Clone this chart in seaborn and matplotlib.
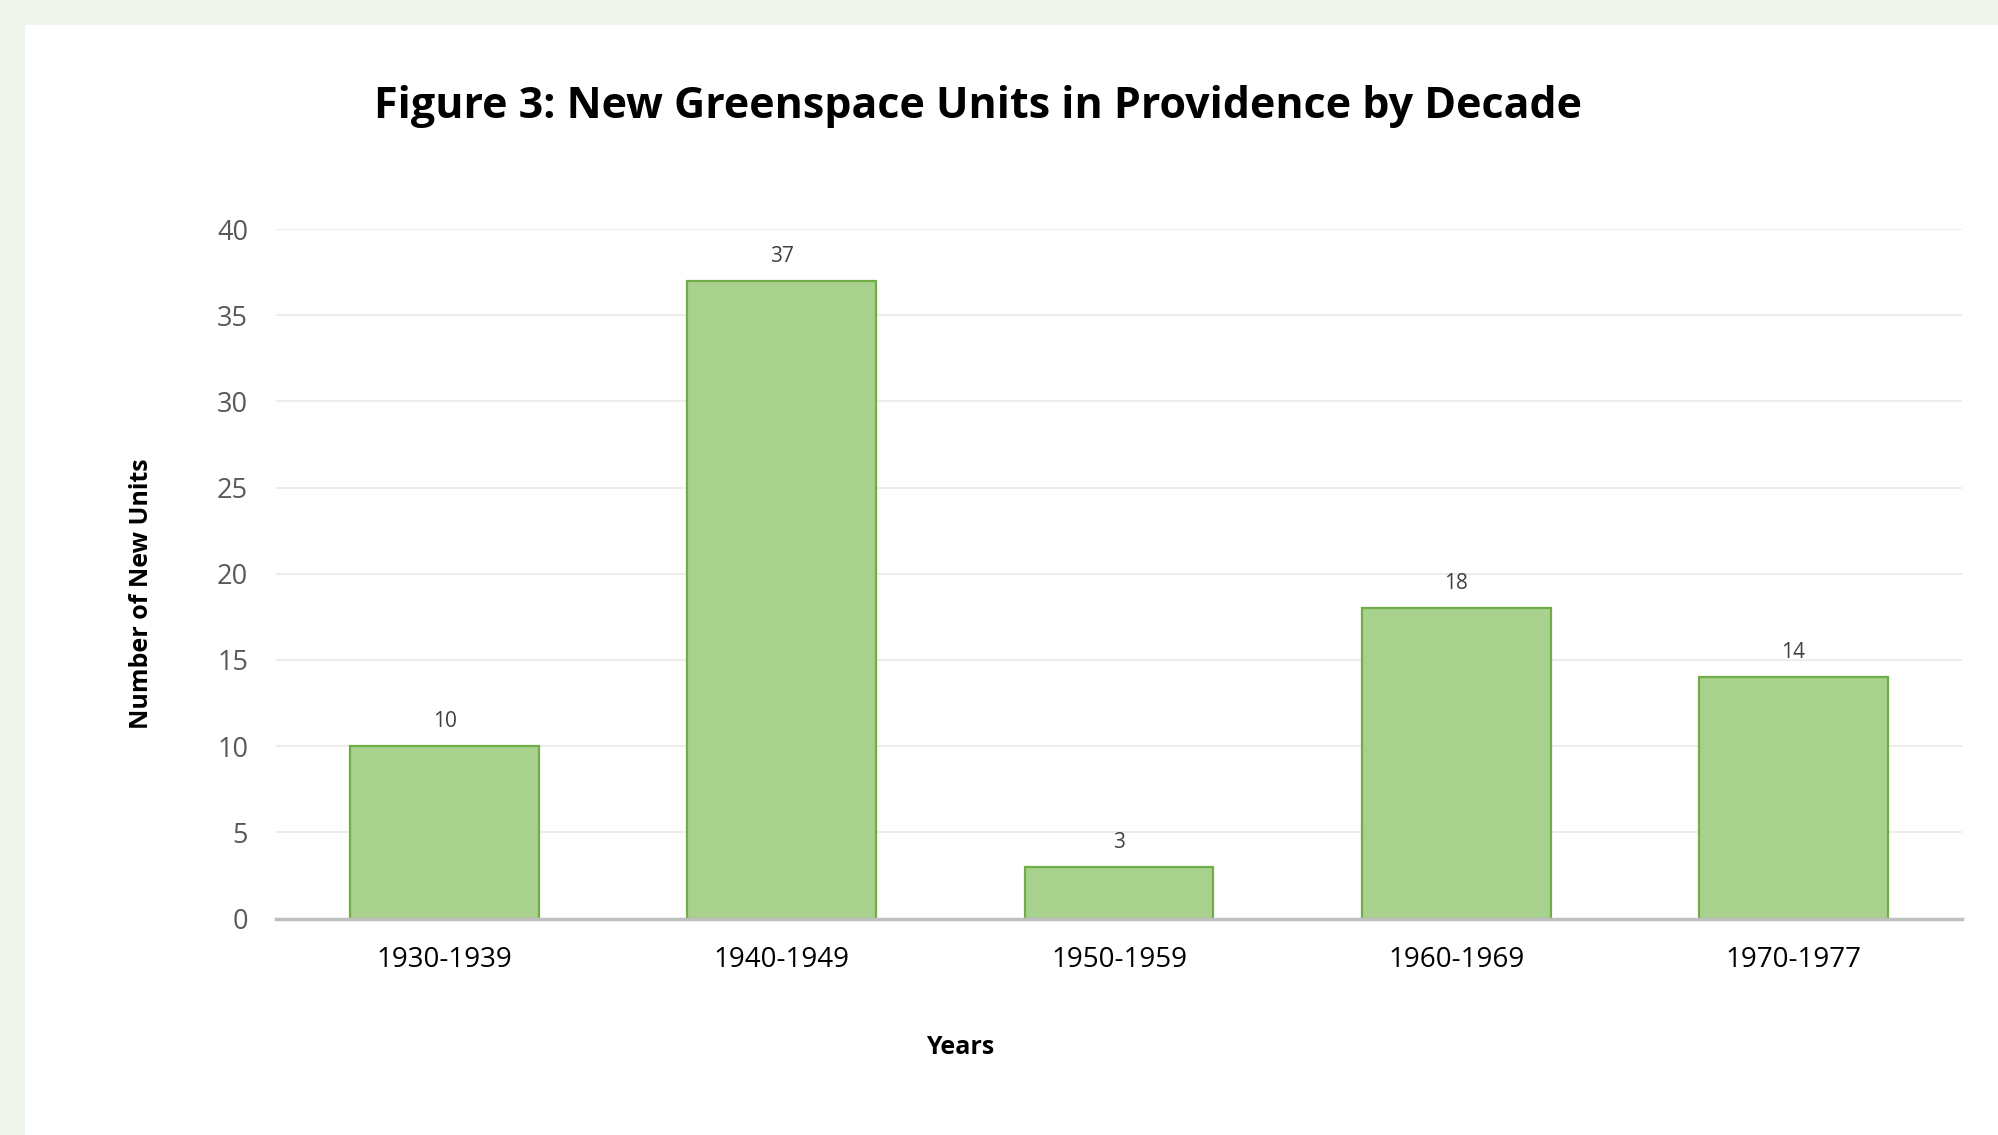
import matplotlib
matplotlib.use("Agg")
import matplotlib.pyplot as plt
import seaborn as sns
import pandas as pd

decades = ["1930-1939", "1940-1949", "1950-1959", "1960-1969", "1970-1977"]
new_units = [10, 37, 3, 18, 14]
y_ticks = [0, 5, 10, 15, 20, 25, 30, 35, 40]

sns.set_theme(style="white")
plt.rcParams['font.family'] = ['Open Sans', 'DejaVu Sans']

df = pd.DataFrame({"Decade": decades, "Units": new_units})

W, H = 1999, 1135
fig = plt.figure(figsize=(W / 100, H / 100), dpi=100)
fig.patch.set_facecolor("#EFF5EA")
# white panel
fig.patches.append(plt.Rectangle((25 / W, 0), 1 - 25 / W, 1 - 25 / H,
                                 transform=fig.transFigure, facecolor="white",
                                 edgecolor="none", zorder=-5))

left, right = 276 / W, 1962 / W
bottom, top = 1 - 918.5 / H, 1 - 229 / H
ax = fig.add_axes([left, bottom, right - left, top - bottom])
ax.set_zorder(2)
ax.set_facecolor("none")

sns.barplot(data=df, x="Decade", y="Units", ax=ax, color="#A9D18E",
            edgecolor="#70AD47", linewidth=1.6, width=0.56, saturation=1,
            zorder=3)

ax.set_ylim(0, 40)
ax.set_xlim(-0.5, len(decades) - 0.5)
ax.set_yticks(y_ticks)
ax.yaxis.grid(True, color="#EDEDED", linewidth=1.5, zorder=0)
ax.set_axisbelow(True)
for s in ["top", "right", "left"]:
    ax.spines[s].set_visible(False)
ax.spines["bottom"].set_color("#BFBFBF")
ax.spines["bottom"].set_linewidth(2.5)
ax.spines["bottom"].set_zorder(4)

ax.tick_params(axis="y", length=0, labelsize=19.5, labelcolor="#595959", pad=20)
ax.tick_params(axis="x", length=0, labelsize=20, labelcolor="#000000", pad=20)

for c in ax.containers:
    ax.bar_label(c, labels=[str(v) for v in new_units], padding=10,
                 fontsize=15, color="#404040")

ax.set_xlabel("")
ax.set_ylabel("")
fig.text(978 / W, 1 - 106 / H, "Figure 3: New Greenspace Units in Providence by Decade",
         ha="center", va="center", fontsize=31, fontweight="bold", color="#000000")
fig.text(142 / W, 1 - 594 / H, "Number of New Units", rotation=90,
         ha="center", va="center", fontsize=18, fontweight="bold", color="#000000")
fig.text(960 / W, 1 - 1048 / H, "Years", ha="center", va="center",
         fontsize=18, fontweight="bold", color="#000000")

fig.savefig("out.png", dpi=100, facecolor=fig.get_facecolor())
